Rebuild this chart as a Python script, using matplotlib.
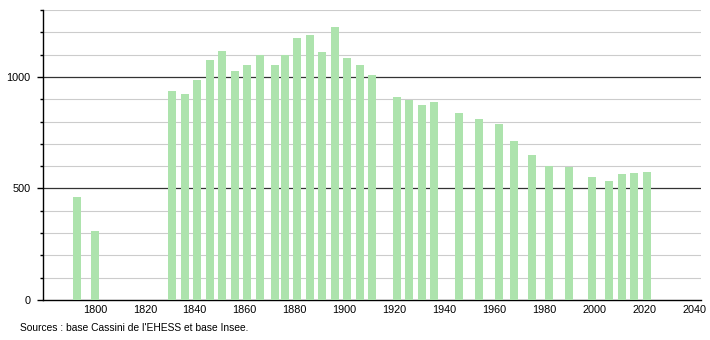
import matplotlib
matplotlib.use("Agg")
import matplotlib.pyplot as plt
from matplotlib.ticker import MultipleLocator

plt.rcParams['font.family'] = ['Liberation Sans', 'DejaVu Sans']

years = [1793, 1800, 1831, 1836, 1841, 1846, 1851, 1856, 1861, 1866, 1872, 1876,
         1881, 1886, 1891, 1896, 1901, 1906, 1911, 1921, 1926, 1931, 1936, 1946,
         1954, 1962, 1968, 1975, 1982, 1990, 1999, 2006, 2011, 2016, 2021]
population = [461, 310, 935, 924, 988, 1078, 1118, 1028, 1055, 1097, 1055, 1097,
              1175, 1190, 1112, 1223, 1085, 1052, 1007, 910, 898, 876, 888, 838,
              811, 789, 714, 648, 602, 594, 552, 534, 564, 569, 576]
x_ticks = list(range(1800, 2041, 20))
y_major = [0, 500, 1000]
source_text = "Sources : base Cassini de l'EHESS et base Insee."

fig = plt.figure(figsize=(7.1, 3.4), dpi=100)
ax = fig.add_axes([43/710, 1 - 300/340, (701 - 43)/710, 290/340])

ax.bar(years, population, width=3.2, color='#ade3ad', zorder=3)

ax.set_xlim(1779.2, 2042.8)
ax.set_ylim(0, 1300)

ax.set_yticks(y_major)
ax.yaxis.set_minor_locator(MultipleLocator(100))
ax.set_xticks(x_ticks)
ax.set_xticklabels([str(t) for t in x_ticks])

for v in range(100, 1301, 100):
    if v % 500 == 0:
        ax.axhline(v, color='#333333', lw=0.9, zorder=1)
    else:
        ax.axhline(v, color='#cccccc', lw=0.8, zorder=1)

for s in ['top', 'right']:
    ax.spines[s].set_visible(False)
ax.spines['left'].set_color('black')
ax.spines['bottom'].set_color('black')
ax.spines['left'].set_linewidth(1.0)
ax.spines['bottom'].set_linewidth(1.0)

ax.tick_params(axis='y', which='major', length=4, width=1, pad=5, labelsize=7.8, colors='black')
ax.tick_params(axis='y', which='minor', length=2, width=1)
ax.tick_params(axis='x', which='both', length=0, pad=3.5, labelsize=7.8)

fig.text(20/710, 1 - 328/340, source_text, fontsize=7.4, va='center', ha='left')

fig.savefig('out.png', dpi=100)
